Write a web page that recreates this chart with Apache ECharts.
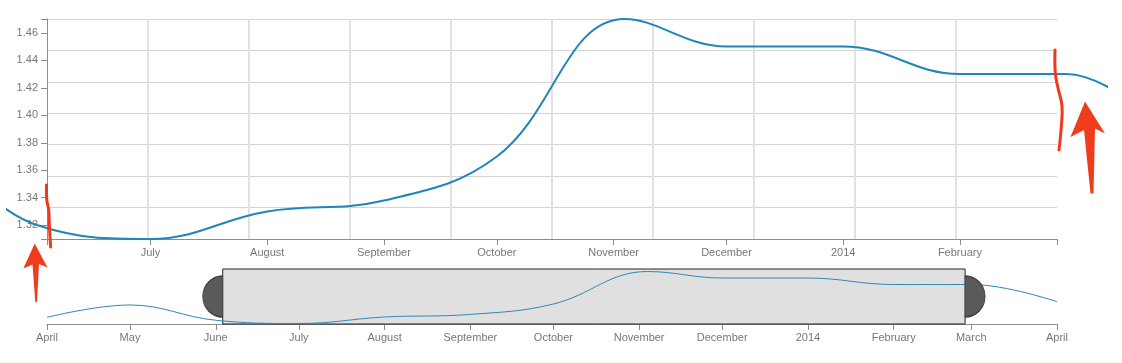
<!DOCTYPE html>
<html>
<head>
<meta charset="utf-8">
<script src="https://cdn.jsdelivr.net/npm/echarts@6/dist/echarts.min.js"></script>
<style>
html,body{margin:0;padding:0;background:#fff;}
#chart{width:1122px;height:363px;}
</style>
</head>
<body>
<div id="chart"></div>
<script>
// ---- data ----
const dates = ['2013-04-01','2013-05-01','2013-06-01','2013-07-01','2013-08-01','2013-09-01','2013-10-01','2013-11-04','2013-12-01','2014-01-01','2014-02-01','2014-03-01','2014-04-01'];
const values = [1.329, 1.367, 1.320, 1.310, 1.330, 1.338, 1.370, 1.470, 1.450, 1.450, 1.430, 1.430, 1.377];
const brushRange = ['2013-06-03T12:00', '2014-02-26T19:00'];
const yTicks = [1.32, 1.34, 1.36, 1.38, 1.40, 1.42, 1.44, 1.46];
const yRange = [1.31, 1.47];
const mainTickDates = ['2013-07-01','2013-08-01','2013-09-01','2013-10-01','2013-11-01','2013-12-01','2014-01-01','2014-02-01'];
const mainTickLabels = ['July','August','September','October','November','December','2014','February'];
const contextTickDates = ['2013-04-01','2013-05-01','2013-06-01','2013-07-01','2013-08-01','2013-09-01','2013-10-01','2013-11-01','2013-12-01','2014-01-01','2014-02-01','2014-03-01','2014-04-01'];
const contextTickLabels = ['April','May','June','July','August','September','October','November','December','2014','February','March','April'];

// ---- helpers ----
function toTime(s) {
  const parts = s.split('T');
  const d = parts[0].split('-').map(Number);
  let h = 0, mi = 0;
  if (parts[1]) { const t = parts[1].split(':').map(Number); h = t[0]; mi = t[1]; }
  return Date.UTC(d[0], d[1] - 1, d[2], h, mi);
}
const seriesData = dates.map((d, i) => [toTime(d), values[i]]);
const bStart = toTime(brushRange[0]);
const bEnd = toTime(brushRange[1]);
const mainTickTimes = mainTickDates.map(toTime);
const ctxTickTimes = contextTickDates.map(toTime);
const ctxMin = 1.3085, ctxMax = 1.4777;

// layout of the focus plot (px) and of the svg that bounds the unclipped line
const PLOT_L = 47, PLOT_W = 1010, PLOT_T = 19, PLOT_H = 220;
const SVG_L = 7, SVG_R = 1107, SVG_T = 0, SVG_B = 255;
const msPerPx = (bEnd - bStart) / PLOT_W;
const unitPerPx = (yRange[1] - yRange[0]) / PLOT_H;

const AXIS_COLOR = '#8c8c8c';
const LABEL_COLOR = '#777';
const FONT = 'Liberation Sans, Arial, sans-serif';
const LINE_COLOR = '#1f86ba';

function labelFor(times, labels) {
  return function (v) {
    for (let i = 0; i < times.length; i++) { if (Math.abs(times[i] - v) < 1000) return labels[i]; }
    return '';
  };
}

const chart = echarts.init(document.getElementById('chart'), null, {renderer: 'canvas'});

const option = {
  animation: false,
  backgroundColor: '#fff',
  grid: [
    {left: PLOT_L, top: PLOT_T, width: PLOT_W, height: PLOT_H},
    {left: 47, top: 269, width: 1010, height: 55},
    {left: SVG_L, top: SVG_T, width: SVG_R - SVG_L, height: SVG_B - SVG_T}
  ],
  xAxis: [
    {
      type: 'value', gridIndex: 0, min: bStart, max: bEnd,
      axisLine: {lineStyle: {color: AXIS_COLOR, width: 1}},
      axisTick: {show: true, length: 6, lineStyle: {color: AXIS_COLOR}, customValues: [bStart].concat(mainTickTimes, [bEnd])},
      axisLabel: {
        customValues: mainTickTimes, color: LABEL_COLOR, fontSize: 11, fontFamily: FONT, margin: 8,
        formatter: labelFor(mainTickTimes, mainTickLabels)
      },
      splitLine: {show: false}
    },
    {
      type: 'value', gridIndex: 0, min: 0, max: 10, interval: 1, position: 'top',
      axisLine: {show: false}, axisTick: {show: false}, axisLabel: {show: false},
      splitLine: {show: true, showMinLine: false, showMaxLine: false, lineStyle: {color: '#e2e2e2', width: 2}}
    },
    {
      type: 'value', gridIndex: 1, min: ctxTickTimes[0], max: ctxTickTimes[ctxTickTimes.length - 1],
      axisLine: {lineStyle: {color: AXIS_COLOR, width: 1}},
      axisTick: {show: true, length: 6, lineStyle: {color: AXIS_COLOR}, customValues: ctxTickTimes},
      axisLabel: {
        customValues: ctxTickTimes, color: LABEL_COLOR, fontSize: 11, fontFamily: FONT, margin: 8,
        formatter: labelFor(ctxTickTimes, contextTickLabels)
      },
      splitLine: {show: false}
    },
    {
      type: 'value', gridIndex: 2, show: false,
      min: bStart - (PLOT_L - SVG_L) * msPerPx,
      max: bEnd + (SVG_R - PLOT_L - PLOT_W) * msPerPx
    }
  ],
  yAxis: [
    {
      type: 'value', gridIndex: 0, min: yRange[0], max: yRange[1],
      axisLine: {show: true, lineStyle: {color: AXIS_COLOR, width: 1}},
      axisTick: {show: true, length: 6, lineStyle: {color: AXIS_COLOR}, customValues: [yRange[0]].concat(yTicks, [yRange[1]])},
      axisLabel: {
        customValues: yTicks, color: LABEL_COLOR, fontSize: 11, fontFamily: FONT, margin: 9,
        formatter: function (v) { return Number(v).toFixed(2); }
      },
      splitLine: {show: false}
    },
    {
      type: 'value', gridIndex: 0, min: 0, max: 7, interval: 1, position: 'right',
      axisLine: {show: false}, axisTick: {show: false}, axisLabel: {show: false},
      splitLine: {show: true, showMinLine: false, lineStyle: {color: '#d4d4d4', width: 1}}
    },
    {
      type: 'value', gridIndex: 1, min: ctxMin, max: ctxMax, show: false,
      splitLine: {show: false}
    },
    {
      type: 'value', gridIndex: 2, show: false,
      min: yRange[0] - (SVG_B - PLOT_T - PLOT_H) * unitPerPx,
      max: yRange[1] + (PLOT_T - SVG_T) * unitPerPx
    }
  ],
  series: [
    {
      type: 'line', xAxisIndex: 3, yAxisIndex: 3, data: seriesData,
      smooth: 0.4, showSymbol: false, symbol: 'none',
      lineStyle: {color: LINE_COLOR, width: 2}, z: 3, silent: true
    },
    {
      type: 'line', xAxisIndex: 2, yAxisIndex: 2, data: seriesData,
      smooth: 0.4, showSymbol: false, symbol: 'none',
      lineStyle: {color: '#2e88b6', width: 1}, z: 3, silent: true,
      markArea: {
        silent: true,
        itemStyle: {color: 'rgba(0,0,0,0.12)', borderColor: '#262626', borderWidth: 1},
        data: [[{xAxis: bStart}, {xAxis: bEnd}]]
      },
      markPoint: {
        silent: true,
        label: {show: false},
        itemStyle: {color: '#5a5a5a', borderColor: '#3c3c3c', borderWidth: 1},
        data: [
          {coord: [bStart, (ctxMin + ctxMax) / 2], symbol: 'path://M0,0 A10,10 0 0,0 0,20 Z', symbolSize: [20, 41], symbolOffset: [-10, 0]},
          {coord: [bEnd, (ctxMin + ctxMax) / 2], symbol: 'path://M0,0 A10,10 0 0,1 0,20 Z', symbolSize: [20, 41], symbolOffset: [10, 0]}
        ]
      }
    }
  ],
  graphic: [
    {type: 'polyline', z: 60, silent: true, shape: {smooth: 0.4, points: [[46.5,185],[46.8,200],[48.7,210],[49.4,226],[50.6,247]]}, style: {stroke: '#ee3a1c', lineWidth: 3, fill: null, lineCap: 'round'}},
    {type: 'polygon', z: 60, silent: true, shape: {points: [[34.7,243.5],[47.5,267.5],[39,264],[37,302],[35.3,302],[32.5,264.5],[23.3,268.5]]}, style: {fill: '#f03c1a'}},
    {type: 'polyline', z: 60, silent: true, shape: {smooth: 0.4, points: [[1055,50],[1055.3,73],[1058,88],[1062,106],[1061.3,127],[1059,150]]}, style: {stroke: '#ee3a1c', lineWidth: 3, fill: null, lineCap: 'round'}},
    {type: 'polygon', z: 60, silent: true, shape: {points: [[1085,101.5],[1105,133.5],[1095,128.5],[1093.5,193.5],[1090.5,193.5],[1084,130],[1070.5,137]]}, style: {fill: '#f03c1a'}}
  ]
};
chart.setOption(option);
</script>
</body>
</html>
